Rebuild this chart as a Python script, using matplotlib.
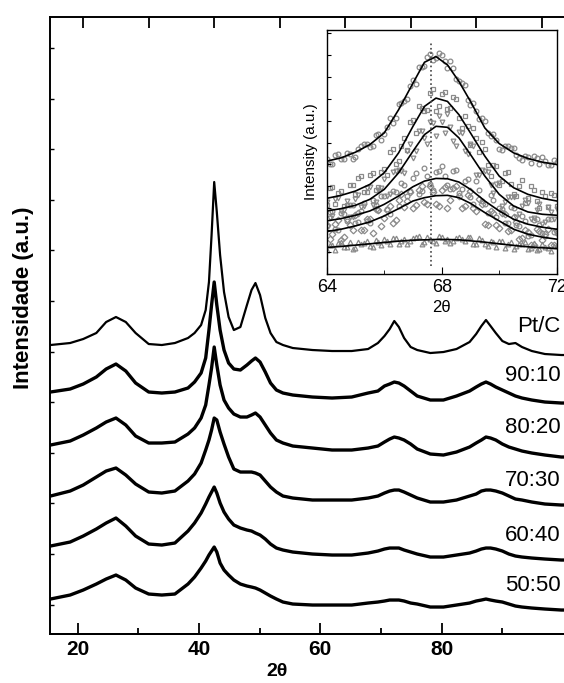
import matplotlib.pyplot as plt

plt.rcParams['font.family'] = ['Liberation Sans', 'DejaVu Sans']

# main patterns (2theta, intensity a.u. incl. offset)
two_theta = [15, 18, 20, 22, 23.5, 25, 26.5, 28, 30, 32, 34,
             36, 37, 38, 38.7, 39.2, 39.6, 40, 40.4, 40.9, 41.5, 42.2,
             43, 44, 45, 45.7, 46.3, 47, 47.8, 48.6, 49.5, 50.5,
             52, 55, 58, 61, 63.5,
             65, 66, 66.8, 67.5, 68.2, 69, 70, 71,
             73, 75, 77,
             79, 80, 80.8, 81.5, 82.2, 83, 84, 85,
             86, 87, 88.5, 90.5, 93, 95]
pt_c = [289, 291, 295, 301, 312, 317, 312, 301, 290, 289, 291,
        296, 301, 309, 324, 352, 399, 452, 422, 379, 342, 317,
        304, 307, 329, 344, 351, 339, 316, 301, 292, 289,
        286, 284, 283, 283, 285,
        291, 298, 305, 313, 307, 296, 287, 284,
        281, 282, 285,
        292, 300, 308, 314, 308, 301, 293, 290,
        291, 287, 283, 280, 279, 279]
s90_10 = [242, 245, 250, 257, 265, 270, 263, 251, 242, 241, 242,
          246, 252, 261, 276, 304, 329, 352, 329, 304, 284, 271,
          265, 264, 269, 273, 276, 272, 262, 251, 244, 241,
          239, 237, 236, 237, 241,
          243, 248, 250, 252, 251, 248, 243, 238,
          234, 234, 238,
          243, 247, 250, 252, 250, 247, 244, 241,
          238, 236, 234, 232, 231, 231]
s80_20 = [189, 193, 199, 206, 212, 216, 209, 198, 191, 191, 192,
          200, 206, 216, 229, 249, 266, 287, 269, 249, 234, 226,
          220, 217, 217, 219, 221, 217, 209, 201, 194, 191,
          188, 186, 184, 184, 186,
          188, 192, 195, 197, 196, 194, 190, 185,
          180, 179, 182,
          187, 191, 194, 197, 196, 194, 190, 187,
          185, 183, 181, 179, 177, 177]
s70_30 = [138, 143, 149, 157, 163, 166, 159, 150, 142, 141, 143,
          153, 160, 171, 184, 194, 204, 216, 214, 202, 190, 177,
          165, 162, 162, 162, 161, 159, 153, 147, 142, 138,
          136, 134, 134, 134, 136,
          138, 141, 143, 144, 144, 142, 139, 136,
          132, 132, 134,
          138, 140, 143, 144, 144, 143, 141, 138,
          135, 134, 132, 130, 129, 129]
s60_40 = [88, 92, 98, 105, 111, 116, 108, 98, 90, 89, 91,
          103, 111, 121, 130, 137, 142, 147, 141, 131, 122, 115,
          109, 106, 104, 103, 101, 99, 95, 90, 86, 84,
          82, 80, 79, 79, 81,
          83, 85, 86, 86, 86, 84, 82, 80,
          77, 77, 79,
          81, 83, 85, 86, 86, 85, 83, 80,
          78, 77, 76, 75, 74, 74]
s50_50 = [35, 39, 44, 50, 55, 59, 54, 46, 40, 39, 40,
          50, 57, 66, 73, 79, 83, 87, 82, 71, 64, 59,
          54, 50, 48, 47, 46, 44, 41, 38, 35, 32,
          30, 29, 29, 29, 31,
          32, 33, 34, 34, 34, 33, 31, 30,
          27, 27, 29,
          31, 33, 34, 35, 34, 33, 32, 30,
          28, 27, 26, 25, 24, 24]
sample_labels = ['Pt/C', '90:10', '80:20', '70:30', '60:40', '50:50']
label_y = [308, 259, 207, 154, 99, 49]

# inset: (220) peak, fitted curves and measured points
fit_x = [64, 64.5, 65, 65.5, 66, 66.5, 67, 67.4, 67.8, 68.2, 68.6, 69,
         69.5, 70, 70.5, 71, 71.5, 72]
fit_a = [340, 350, 367, 390, 425, 495, 575, 638, 655, 630, 580, 520,
         440, 393, 365, 348, 337, 330]
fit_b = [228, 237, 250, 270, 305, 365, 445, 505, 530, 520, 480, 425,
         355, 295, 260, 240, 228, 220]
fit_c = [190, 197, 207, 225, 255, 305, 370, 420, 445, 442, 410, 360,
         295, 240, 205, 187, 180, 177]
fit_d = [160, 167, 177, 190, 210, 235, 263, 280, 288, 287, 277, 255,
         220, 190, 165, 150, 141, 135]
fit_e = [128, 135, 145, 157, 175, 197, 220, 230, 236, 237, 230, 213,
         185, 160, 135, 120, 111, 105]
fit_f = [80, 83, 87, 91, 95, 99, 102, 103, 104, 104, 103, 100,
         96, 91, 86, 82, 79, 77]

pts_x = [64.0, 64.2, 64.4, 64.6, 64.8, 65.0, 65.2, 65.4, 65.6, 65.8,
         66.0, 66.2, 66.4, 66.6, 66.8, 67.0, 67.2, 67.4, 67.6, 67.8,
         68.0, 68.2, 68.4, 68.6, 68.8, 69.0, 69.2, 69.4, 69.6, 69.8,
         70.0, 70.2, 70.4, 70.6, 70.8, 71.0, 71.2, 71.4, 71.6, 71.8, 72.0]
pts_a = [348, 332, 363, 348, 363, 353, 386, 391, 387, 422,
         422, 470, 470, 516, 527, 584, 625, 627, 662, 651,
         661, 622, 621, 581, 569, 509, 490, 469, 424, 421,
         378, 386, 381, 359, 343, 354, 357, 330, 341, 327, 338]
pts_b = [208, 262, 245, 205, 269, 242, 294, 248, 305, 261,
         317, 369, 331, 387, 375, 465, 507, 491, 544, 490,
         543, 496, 534, 470, 475, 389, 411, 399, 327, 327,
         267, 305, 271, 236, 282, 228, 253, 200, 236, 245, 206]
pts_c = [216, 175, 230, 193, 173, 227, 202, 259, 207, 253,
         285, 241, 311, 310, 372, 350, 431, 410, 457, 415,
         458, 482, 400, 428, 371, 392, 298, 314, 306, 244,
         274, 218, 232, 173, 206, 213, 168, 211, 157, 186, 195]
pts_d = [146, 191, 134, 181, 209, 155, 190, 159, 224, 192,
         234, 182, 248, 275, 236, 289, 242, 320, 272, 308,
         324, 267, 310, 243, 280, 231, 279, 219, 184, 224,
         200, 154, 202, 148, 176, 114, 162, 149, 116, 167, 125]
pts_e = [148, 121, 164, 113, 147, 179, 132, 167, 125, 194,
         169, 206, 163, 240, 221, 200, 253, 216, 265, 210,
         253, 199, 258, 234, 204, 249, 190, 211, 148, 184,
         138, 180, 132, 158, 110, 128, 88, 131, 122, 87, 129]
pts_f = [72, 87, 92, 80, 97, 77, 91, 98, 80, 97,
         105, 91, 110, 98, 91, 108, 114, 95, 107, 92,
         112, 106, 98, 113, 98, 112, 90, 103, 85, 97,
         99, 77, 97, 83, 90, 74, 93, 76, 81, 68, 83]

pts_x2 = [64.1, 64.3, 64.5, 64.7, 64.9, 65.1, 65.3, 65.5, 65.7, 65.9,
          66.1, 66.3, 66.5, 66.7, 66.9, 67.1, 67.3, 67.5, 67.7, 67.9,
          68.1, 68.3, 68.5, 68.7, 68.9, 69.1, 69.3, 69.5, 69.7, 69.9,
          70.1, 70.3, 70.5, 70.7, 70.9, 71.1, 71.3, 71.5, 71.7, 71.9]
pts_a2 = [332, 360, 347, 366, 348, 378, 393, 383, 420, 405,
          442, 455, 511, 521, 567, 573, 625, 653, 644, 667,
          642, 643, 588, 576, 523, 514, 467, 462, 415, 405,
          373, 386, 379, 349, 356, 333, 349, 353, 329, 343]
pts_b2 = [260, 210, 250, 207, 268, 288, 248, 298, 254, 306,
          297, 377, 341, 411, 457, 426, 500, 494, 556, 506,
          547, 500, 526, 439, 445, 441, 367, 378, 295, 325,
          280, 308, 242, 264, 214, 264, 221, 248, 201, 238]
pts_c2 = [170, 227, 190, 219, 171, 237, 204, 262, 217, 259,
          235, 307, 313, 305, 391, 371, 432, 391, 455, 475,
          425, 442, 386, 426, 363, 385, 297, 310, 267, 271,
          205, 231, 233, 182, 223, 166, 193, 150, 203, 166]
pts_d2 = [186, 135, 184, 159, 209, 158, 213, 155, 208, 236,
          197, 251, 204, 267, 250, 304, 250, 296, 252, 310,
          296, 257, 312, 256, 287, 210, 252, 211, 238, 172,
          197, 155, 200, 145, 159, 118, 167, 124, 167, 128]
pts_e2 = [104, 151, 102, 167, 133, 184, 133, 166, 197, 144,
          194, 153, 222, 201, 246, 207, 266, 210, 247, 205,
          263, 224, 266, 200, 238, 200, 227, 152, 191, 147,
          183, 131, 172, 105, 133, 88, 137, 102, 135, 86]
pts_f2 = [87, 72, 95, 81, 74, 96, 92, 83, 103, 88,
          100, 110, 89, 107, 100, 112, 91, 111, 98, 116,
          100, 94, 110, 105, 111, 91, 110, 90, 98, 80,
          98, 90, 76, 91, 95, 78, 73, 90, 77, 84]
peak_ref = 67.62


def shown(t):
    return 15.5165 + 1.07951 * (t - 15)


def true(d):
    return 15 + (d - 15.5165) / 1.07951


fig = plt.figure(figsize=(5.64, 6.83), dpi=100)
ax = fig.add_axes([0.0895, 0.0717, 0.9289, 0.9034])

series = [pt_c, s90_10, s80_20, s70_30, s60_40, s50_50]
for i, ys in enumerate(series):
    ax.plot(two_theta, ys, color='black', lw=1.6 if i == 0 else 2.4,
            solid_joinstyle='round')

for lab, yy in zip(sample_labels, label_y):
    xx = 86.2 if lab == 'Pt/C' else 84.4
    ax.text(xx, yy, lab, fontsize=16, ha='left', va='center')

ax.set_xlim(15, 95)
ax.set_ylim(0, 617)
ax.set_xticks(range(20, 95, 10))
ax.set_yticks([29.4 + 50.6 * k for k in range(12)])
ax.tick_params(axis='x', top=True, bottom=False, labeltop=False,
               labelbottom=False, direction='in', length=8, width=1.3)
ax.tick_params(axis='y', left=True, right=False, labelleft=False,
               direction='in', length=3, width=1)
for s in ax.spines.values():
    s.set_linewidth(1.4)

sec = ax.secondary_xaxis('bottom', functions=(shown, true))
sec.set_xticks([20, 40, 60, 80], labels=['20', '40', '60', '80'],
               fontweight='bold', fontsize=15)
sec.set_xticks([30, 50, 70, 90], minor=True)
sec.tick_params(which='major', direction='in', length=8, width=1.3, pad=4)
sec.tick_params(which='minor', direction='in', length=4, width=1.3)
sec.spines['bottom'].set_linewidth(1.4)

fig.text(277 / 564, 1 - 672 / 683, '2θ', fontsize=14, fontweight='bold',
         ha='center', va='center')
fig.text(23 / 564, 1 - 298 / 683, 'Intensidade (a.u.)', fontsize=16,
         fontweight='bold', rotation=90, ha='center', va='center')

# inset
ins = fig.add_axes([0.5793, 0.5988, 0.4078, 0.3572])
pts = [pts_a, pts_b, pts_c, pts_d, pts_e, pts_f]
pts2 = [pts_a2, pts_b2, pts_c2, pts_d2, pts_e2, pts_f2]
fits = [fit_a, fit_b, fit_c, fit_d, fit_e, fit_f]
marks = ['o', 's', 'v', 'o', 'D', '^']
for p, p2, m in zip(pts, pts2, marks):
    ins.plot(pts_x, p, ls='none', marker=m, mfc='none', mec='#8a8a8a',
             ms=3.4, mew=0.9, zorder=1)
    ins.plot(pts_x2, p2, ls='none', marker=m, mfc='none', mec='#8a8a8a',
             ms=3.4, mew=0.9, zorder=1)
for f in fits:
    ins.plot(fit_x, f, color='black', lw=1.2, zorder=2)
ins.plot([peak_ref, peak_ref], [25, 695], color='#444444', ls=':', lw=1.2,
         zorder=3)

ins.set_xlim(64, 72)
ins.set_ylim(0, 735)
ins.set_xticks([64, 68, 72])
ins.set_xticks([66, 70], minor=True)
ins.set_yticks(range(0, 735, 66))
ins.tick_params(axis='x', which='major', direction='in', length=5,
                labelsize=13, top=False)
ins.tick_params(axis='x', which='minor', direction='in', length=3, top=False)
ins.tick_params(axis='y', direction='in', length=3, labelleft=False,
                right=False)
ins.set_xlabel('2θ', fontsize=12, labelpad=3)
ins.set_ylabel('Intensity (a.u.)', fontsize=11, labelpad=6)
for s in ins.spines.values():
    s.set_linewidth(1.0)

fig.savefig('out.png', dpi=100)
